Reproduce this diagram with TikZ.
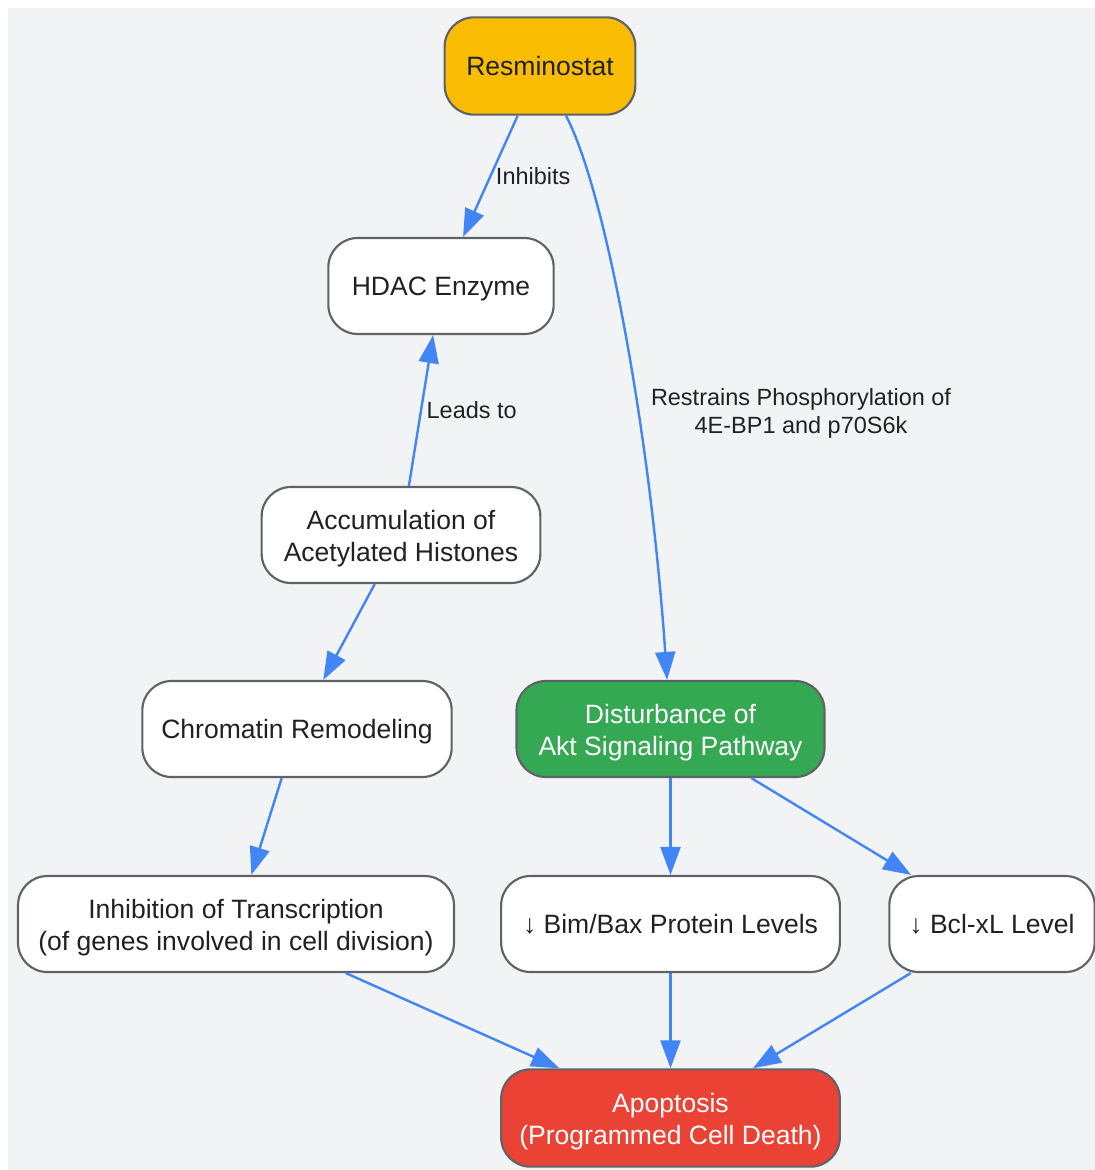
\documentclass[tikz,border=0pt]{standalone}
\usepackage{fontspec}
\setmainfont{Liberation Sans}
\usetikzlibrary{arrows.meta}
\definecolor{bgcol}{RGB}{242,243,245}
\definecolor{boxline}{RGB}{95,99,104}
\definecolor{textcol}{RGB}{32,33,36}
\definecolor{linkcol}{RGB}{66,133,244}
\definecolor{drugcol}{RGB}{251,188,4}
\definecolor{aktcol}{RGB}{52,168,83}
\definecolor{deathcol}{RGB}{234,67,53}
\newcommand\boxstrut{\rule[-4.5pt]{0pt}{23.3pt}}
\newcommand\toplift{\rule{0pt}{19.6pt}}
\tikzset{
    box/.style={draw=boxline, line width=1.6pt, rounded corners=22pt, fill=white,
        text=textcol, align=center, inner sep=0pt, minimum height=72pt,
        font=\fontsize{19.9}{24}\selectfont\boxstrut},
    link/.style={draw=linkcol, line width=1.8pt, -{Triangle[length=21pt,width=15pt]}},
    linklabel/.style={text=textcol, align=center, font=\fontsize{17.6}{21}\selectfont}
}
\begin{document}
\begin{tikzpicture}[x=0.75pt,y=-0.75pt]
                \useasboundingbox (0,0) rectangle (1095,1170);
                \fill[bgcol] (8,8) rectangle (1095,1170);
                % nodes
                \node[box, fill=drugcol, minimum width=143pt, minimum height=73pt] (res) at (540,66) {Resminostat};
                \node[box, minimum width=169pt] (hdac) at (441,286) {HDAC Enzyme};
                \node[box, minimum width=209pt] (acc) at (401,535) {\toplift Accumulation of\\Acetylated Histones};
                \node[box, minimum width=232pt] (chrom) at (297,729) {Chromatin Remodeling};
                \node[box, fill=aktcol, text=white, minimum width=231pt] (akt) at (670.5,729) {\toplift Disturbance of\\Akt Signaling Pathway};
                \node[box, minimum width=327pt] (trans) at (236,924) {\toplift Inhibition of Transcription\\(of genes involved in cell division)};
                \node[box, minimum width=254pt] (bim) at (670.5,924) {↓ Bim/Bax Protein Levels};
                \node[box, minimum width=154pt] (bcl) at (992,924) {↓ Bcl-xL Level};
                \node[box, fill=deathcol, text=white, minimum width=254pt, minimum height=73pt] (apop) at (670.5,1118) {\toplift Apoptosis\\(Programmed Cell Death)};
                % links
                \draw[link] (res) -- (hdac) node[midway,right,linklabel] {Inhibits};
                \draw[link] (acc) -- (hdac) node[midway,right,linklabel] {Leads to};
                \draw[link] (res) .. controls (605,190) and (650,430) .. (akt);
                \node[linklabel] (akttext) at (801,413) {Restrains Phosphorylation of\\4E-BP1 and p70S6k};
                \draw[link] (acc) -- (chrom);
                \draw[link] (chrom) -- (trans);
                \draw[link] (akt) -- (bim);
                \draw[link] (akt) -- (bcl);
                \draw[link] (trans) -- (apop);
                \draw[link] (bim) -- (apop);
                \draw[link] (bcl) -- (apop);
            \end{tikzpicture}
\end{document}
